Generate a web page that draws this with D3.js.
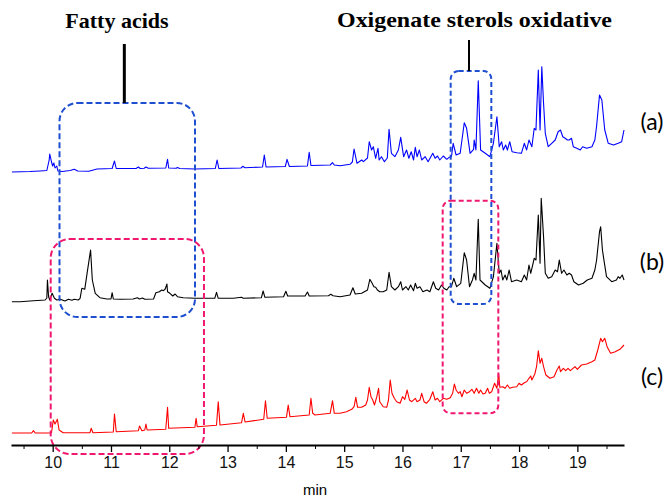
<!DOCTYPE html>
<html>
<head>
<meta charset="utf-8">
<script src="https://cdn.jsdelivr.net/npm/d3@7"></script>
<style>
  body { margin: 0; background: #fff; }
  svg { display: block; }
  .tick text { font-family: "Liberation Sans", Arial, sans-serif; font-size: 16px; }
  .title { font-family: "Liberation Serif", "Times New Roman", serif; font-weight: bold; font-size: 22px; }
  .tag { font-family: Lato, "Open Sans", sans-serif; font-size: 23px; }
</style>
</head>
<body>
<svg id="chart" width="670" height="498"></svg>
<script>
// retention time (min), signal (arbitrary units, above each trace's own baseline)
var traceA = [
  [9.30,0],[9.61,0.5],[9.78,1],[9.90,1.5],[9.94,12],[9.95,18],[9.98,10],[10.00,6],[10.02,9],[10.04,4],[10.07,6],[10.09,1],
  [10.16,0.5],[10.30,1.5],[10.37,2.7],[10.43,1],[10.62,0.7],[10.76,3],[11.02,3.5],[11.06,11],[11.09,3.5],[11.43,3.5],
  [11.47,5],[11.50,3.5],[11.57,3.7],[11.60,5],[11.64,3.7],[11.94,4],[11.97,12.7],[11.99,4],[12.12,3.7],[12.14,4.5],
  [12.18,3.5],[12.44,3],[12.79,3.5],[12.82,12],[12.85,3.5],[13.23,4],[13.26,5.7],[13.30,4.2],[13.60,5],[13.63,17],
  [13.66,5],[13.99,5.5],[14.02,12.7],[14.06,5.5],[14.37,6],[14.40,19.7],[14.43,6.5],[14.76,7],[14.80,9.3],[14.83,7],
  [14.93,6.2],[15.10,7.7],[15.14,10],[15.17,23],[15.22,8.7],[15.30,12],[15.33,10.3],[15.40,14],[15.43,30.3],[15.47,22],
  [15.50,25.3],[15.54,13.7],[15.58,23.7],[15.60,12],[15.64,15.3],[15.69,10.3],[15.74,14],[15.77,42.7],[15.81,18.7],
  [15.87,15.3],[15.93,22],[15.97,34.7],[16.02,15.3],[16.07,22],[16.11,13.7],[16.15,20.3],[16.19,12],[16.22,24.7],
  [16.25,15.3],[16.29,22],[16.33,12],[16.39,15.3],[16.44,10.3],[16.52,18.7],[16.56,13.7],[16.60,16],[16.64,12],
  [16.70,16],[16.76,12.7],[16.80,14.7],[16.84,15.3],[16.87,28.7],[16.92,17],[16.99,18.7],[17.06,49.3],[17.10,43.7],
  [17.16,18.7],[17.22,22.7],[17.23,32],[17.26,22],[17.30,91.3],[17.34,22],[17.42,18.7],[17.50,15.3],[17.56,28.7],
  [17.62,55.3],[17.66,25.3],[17.70,30.3],[17.73,22],[17.77,27],[17.80,22],[17.84,30.3],[17.88,20.3],[17.96,19.3],
  [18.04,18.7],[18.09,28.7],[18.13,22],[18.17,32],[18.22,25.3],[18.26,43.7],[18.29,42],[18.33,102],[18.36,42],
  [18.39,105.3],[18.42,68.7],[18.45,38.7],[18.50,25.3],[18.56,28.7],[18.62,32],[18.67,40.3],[18.71,42],[18.75,35.3],
  [18.79,33.7],[18.83,32],[18.86,32],[18.90,33.7],[18.93,25.3],[18.99,23.7],[19.05,22],[19.09,25.3],[19.16,23.7],
  [19.25,25.3],[19.30,32],[19.33,46],[19.38,77],[19.42,72],[19.45,53.7],[19.47,42],[19.53,28.7],[19.62,27],
  [19.70,28.7],[19.76,30.3],[19.80,42]
];
var traceB = [
  [9.30,0.3],[9.44,0.3],[9.67,1.3],[9.87,2],[9.90,4],[9.91,22],[9.93,5.3],[9.95,2],[9.99,8.7],[10.03,3.7],[10.07,2],
  [10.13,2.7],[10.21,1],[10.27,2.7],[10.33,1.7],[10.37,2.7],[10.44,2],[10.47,3.7],[10.50,13.7],[10.55,12.7],
  [10.59,28.7],[10.65,52],[10.68,22],[10.73,8.7],[10.81,4.3],[10.93,3],[11.00,3],[11.02,9.3],[11.04,3],[11.16,2.7],
  [11.38,3],[11.45,4.3],[11.49,3],[11.54,4],[11.58,2.7],[11.73,3],[11.77,9.3],[11.83,10.3],[11.87,12],[11.90,11.3],
  [11.93,13],[11.96,18],[11.97,10.3],[12.01,8.7],[12.06,6],[12.10,8],[12.14,5.3],[12.24,4.3],[12.44,3.7],[12.78,3.7],
  [12.81,9.7],[12.84,3.7],[13.10,3.7],[13.24,4.7],[13.27,3.7],[13.58,4.3],[13.61,11],[13.64,4.7],[13.96,5.3],
  [14.00,10.7],[14.03,6],[14.33,6],[14.37,10],[14.40,6],[14.73,6.3],[14.77,7.7],[14.81,6.3],[14.93,5.3],[15.10,7],
  [15.15,14.3],[15.19,8],[15.30,8.7],[15.40,12],[15.44,22.7],[15.48,18.7],[15.51,15.3],[15.54,14.7],[15.57,12],
  [15.61,10.3],[15.67,10.3],[15.73,12],[15.77,29.7],[15.81,15.3],[15.87,12],[15.93,15.3],[15.97,20.3],[16.00,12],
  [16.06,15.3],[16.10,12],[16.14,17],[16.19,11.3],[16.22,18.7],[16.25,13.7],[16.30,15.3],[16.35,10.3],[16.42,12],
  [16.47,10.3],[16.53,20.3],[16.57,13.7],[16.62,12],[16.67,17],[16.71,13.7],[16.76,12],[16.80,15.3],[16.84,15.3],
  [16.88,23.7],[16.93,15.3],[17.00,18.7],[17.06,49.3],[17.10,42],[17.15,15.3],[17.20,22],[17.23,28.7],[17.26,22],
  [17.30,82.7],[17.33,22],[17.42,17],[17.50,13.7],[17.56,25.3],[17.62,58.7],[17.66,28.7],[17.69,32],[17.72,22],
  [17.76,27],[17.79,22],[17.83,32],[17.87,20.3],[17.96,22],[18.04,20.3],[18.09,27],[18.13,22],[18.17,37],[18.20,28.7],
  [18.26,43.7],[18.29,42],[18.33,87],[18.36,38.7],[18.38,103.7],[18.42,65.3],[18.45,28.7],[18.50,23.7],[18.56,25.3],
  [18.62,32],[18.66,30.3],[18.69,42],[18.73,28.7],[18.77,32],[18.82,27],[18.86,28.7],[18.90,27],[18.94,20.3],
  [19.02,17],[19.10,18.7],[19.17,22],[19.25,23.7],[19.30,32],[19.33,42],[19.38,70.3],[19.40,75.3],[19.43,52],
  [19.46,40.3],[19.50,25.3],[19.59,20.3],[19.67,22],[19.70,25.3],[19.73,23.7],[19.77,27],[19.80,22]
];
var traceC = [
  [9.30,0],[9.64,0],[9.67,2.3],[9.70,0],[9.92,0],[9.98,0.3],[10.01,13],[10.04,9],[10.08,13.7],[10.11,3],[10.18,0.3],
  [10.64,0.3],[10.66,4.7],[10.69,0.3],[11.04,1],[11.06,19],[11.09,1.3],[11.47,2.3],[11.49,7],[11.53,2.3],[11.58,3],
  [11.60,9],[11.62,3],[11.94,3.7],[11.97,25.7],[11.99,4.7],[12.44,5.7],[12.46,14.7],[12.48,6.3],[12.81,7.7],
  [12.84,31.3],[12.87,8],[13.24,10.3],[13.27,19.7],[13.30,11],[13.62,13.7],[13.65,32.3],[13.68,14.7],[14.01,15.7],
  [14.04,28],[14.07,16.3],[14.40,18],[14.43,34.7],[14.46,19.7],[14.50,18],[14.76,19.7],[14.80,32.3],[14.83,19.7],
  [14.93,19.7],[15.04,21.3],[15.13,23.7],[15.17,26.3],[15.20,35.7],[15.23,25.7],[15.30,25.7],[15.37,28],[15.40,33],
  [15.43,45.7],[15.46,36.3],[15.49,33],[15.52,28],[15.56,36.3],[15.59,44.7],[15.61,31.3],[15.67,26.3],[15.73,25.7],
  [15.76,33],[15.79,53],[15.82,39.7],[15.86,34.7],[15.90,31.3],[15.96,29.7],[16.00,36.3],[16.04,33.7],[16.08,43],
  [16.12,33],[16.16,31.3],[16.22,34.7],[16.25,31.3],[16.30,33],[16.33,39.7],[16.37,31.3],[16.41,29.7],[16.47,33.7],
  [16.52,41.3],[16.56,33],[16.60,34.7],[16.64,31.3],[16.70,34.7],[16.76,33.7],[16.82,35.3],[16.86,39.7],[16.89,49],
  [16.92,43],[16.96,39.7],[16.99,41.3],[17.02,36.3],[17.06,43],[17.10,39.7],[17.15,41.3],[17.19,43.7],[17.23,39.7],
  [17.27,44.7],[17.31,39.7],[17.34,43],[17.38,39],[17.42,39.7],[17.46,44.7],[17.49,39.7],[17.53,41.3],[17.58,49.7],
  [17.62,44.7],[17.65,59.7],[17.67,45.7],[17.72,46.3],[17.76,44.7],[17.80,48],[17.84,44.7],[17.89,45.7],[17.96,46.3],
  [18.00,49.7],[18.04,48],[18.09,50.3],[18.13,51.3],[18.17,54.7],[18.20,57],[18.22,53],[18.27,59],[18.30,66.3],
  [18.33,82.3],[18.36,69.7],[18.39,74.7],[18.42,66.3],[18.46,58],[18.53,54.7],[18.60,56.3],[18.65,63],[18.69,67],
  [18.71,61.3],[18.76,64.7],[18.80,62.3],[18.84,64.7],[18.88,62.3],[18.96,66.3],[19.00,63.7],[19.07,68],[19.16,69],
  [19.25,71.3],[19.30,73],[19.35,83],[19.40,94.7],[19.43,91.3],[19.47,94.7],[19.51,86.3],[19.57,79.7],[19.65,81.3],
  [19.73,83.7],[19.80,88]
];

// vertical offset of each stacked trace (same units)
var traceNames = ["(a)", "(b)", "(c)"];
var traceOffsets = [273, 143, 12];
var traceColors = ["#0000ff", "#000000", "#ff0000"];

var majorTicks = [10, 11, 12, 13, 14, 15, 16, 17, 18, 19];
var minorTicks = [9.5, 10.5, 11.5, 12.5, 13.5, 14.5, 15.5, 16.5, 17.5, 18.5, 19.5];

// highlighted regions: [t0, t1, top, bottom] in data units
var boxTimes = [[10.117, 12.441], [16.827, 17.524], [9.966, 12.595], [16.690, 17.644]];
var boxLevels = [[342, 128], [374, 141], [206, -9], [244.3, 31.7]];
var boxColors = ["#1e4fd0", "#1e4fd0", "#f0186e", "#f0186e"];
var boxRadius = [18, 8, 19, 8];

var groupLabels = ["Fatty acids", "Oxigenate sterols oxidative"];
var groupTimes = [11.229, 17.141];   // where the pointer line sits
var groupTops = [401, 405];
var groupBoxes = [0, 1];

var svg = d3.select("#chart");
var x = d3.scaleLinear().domain([9.285, 19.8]).range([11, 624]);
var y = d3.scaleLinear().domain([0, 400]).range([445, 45]);

// traces
var line = d3.line().x(function(d) { return x(d[0]); });
[traceA, traceB, traceC].forEach(function(tr, i) {
  line.y(function(d) { return y(d[1] + traceOffsets[i]); });
  svg.append("path")
     .datum(tr)
     .attr("fill", "none")
     .attr("stroke", traceColors[i])
     .attr("stroke-width", 1.1)
     .attr("stroke-linejoin", "round")
     .attr("d", line);
  svg.append("text")
     .attr("class", "tag")
     .attr("x", 652)
     .attr("y", y(traceOffsets[i] + [50, 40, 56][i]))
     .attr("text-anchor", "middle")
     .attr("dy", "0.35em")
     .text(traceNames[i]);
});

// dashed boxes
boxTimes.forEach(function(b, i) {
  svg.append("rect")
     .attr("x", x(b[0]))
     .attr("y", y(boxLevels[i][0]))
     .attr("width", x(b[1]) - x(b[0]))
     .attr("height", y(boxLevels[i][1]) - y(boxLevels[i][0]))
     .attr("rx", boxRadius[i])
     .attr("fill", "none")
     .attr("stroke", boxColors[i])
     .attr("stroke-width", 2)
     .attr("stroke-dasharray", i % 2 ? "5,3" : "6,3");
});

// group labels and pointers
groupLabels.forEach(function(lab, i) {
  var bx = groupBoxes[i];
  svg.append("line")
     .attr("x1", x(groupTimes[i])).attr("x2", x(groupTimes[i]))
     .attr("y1", y(groupTops[i])).attr("y2", y(boxLevels[bx][0]))
     .attr("stroke", "#000")
     .attr("stroke-width", i ? 2 : 3);
});
svg.append("text").attr("class", "title")
   .attr("x", 117).attr("y", 28).attr("text-anchor", "middle")
   .text(groupLabels[0]);
svg.append("text").attr("class", "title")
   .attr("x", 337).attr("y", 27)
   .attr("textLength", 275).attr("lengthAdjust", "spacingAndGlyphs")
   .text(groupLabels[1]);

// x axis
var axisY = y(0);
svg.append("g")
   .attr("transform", "translate(0," + axisY + ")")
   .call(d3.axisBottom(x).tickValues(minorTicks).tickSize(4).tickSizeOuter(0).tickFormat(""))
   .call(function(g) { g.select(".domain").remove(); });
var ax = svg.append("g")
   .attr("transform", "translate(0," + axisY + ")")
   .call(d3.axisBottom(x).tickValues(majorTicks).tickSize(7).tickSizeOuter(0).tickPadding(5).tickFormat(d3.format("d")));
ax.select(".domain").attr("stroke-width", 2);
ax.selectAll(".tick line").attr("stroke-width", 1.3);
svg.selectAll(".tick text").attr("fill", "#111");

svg.append("text")
   .attr("x", 315).attr("y", 495)
   .attr("text-anchor", "middle")
   .style("font-family", "'Liberation Sans', Arial, sans-serif")
   .style("font-size", "15px")
   .text("min");
</script>
</body>
</html>
